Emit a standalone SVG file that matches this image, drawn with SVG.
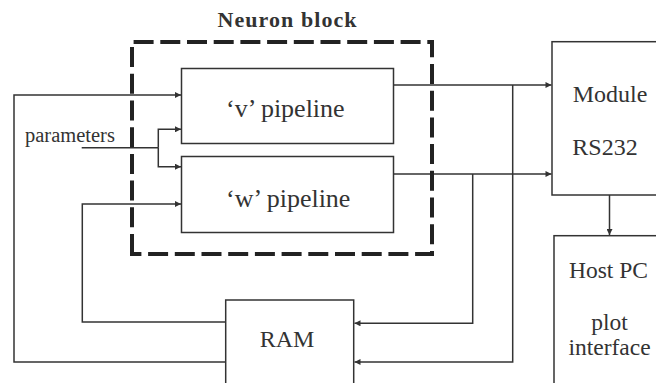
<svg xmlns="http://www.w3.org/2000/svg" width="656" height="383" viewBox="0 0 656 383">
<style>
.box{fill:none;stroke:#333;stroke-width:1.5}
.ln{fill:none;stroke:#333;stroke-width:1.5}
.arr{marker-end:url(#ah)}
.t{font-family:"Liberation Serif","Times New Roman",serif;fill:#333}
.dash{fill:none;stroke:#222;stroke-width:4;stroke-dasharray:20 6.7}
</style>
<defs>
<marker id="ah" viewBox="0 0 10 10" refX="10" refY="5" markerWidth="8" markerHeight="6" markerUnits="userSpaceOnUse" orient="auto">
<path d="M0,0 L10,5 L0,10 z" fill="#333"/>
</marker>
</defs>
<rect width="656" height="383" fill="#fff"/>
<g id="connectors">
<path class="ln arr" d="M225.7,362 H14 V95 H181"/>
<path class="ln arr" d="M225.7,322 H82.3 V204 H181"/>
<path class="ln" d="M81.7,147.7 H158.3"/>
<path class="ln arr" d="M158.3,147.7 V129.3 H181"/>
<path class="ln arr" d="M158.3,147.7 V166.7 H181"/>
<path class="ln arr" d="M393.5,85 H551.5"/>
<path class="ln arr" d="M512.7,85 V362 H354.5"/>
<path class="ln arr" d="M393.5,174 H551.5"/>
<path class="ln arr" d="M472.7,174 V323.3 H354.5"/>
<path class="ln arr" d="M609.5,195 V235"/>
</g>
<g id="neuron-block">
<path class="dash" d="M132,254 V42 H432 V254 Z"/>
<text class="t" x="287" y="27" font-size="22" font-weight="bold" text-anchor="middle" textLength="139" lengthAdjust="spacing">Neuron block</text>
</g>
<g id="v-pipeline">
<rect class="box" x="181.5" y="68.5" width="212" height="75"/>
<text class="t" x="226" y="116.7" font-size="26">‘v’ pipeline</text>
</g>
<g id="w-pipeline">
<rect class="box" x="181.5" y="156.5" width="212" height="76"/>
<text class="t" x="226" y="206.7" font-size="26">‘w’ pipeline</text>
</g>
<g id="parameters">
<text class="t" x="25" y="141.5" font-size="20.5">parameters</text>
</g>
<g id="ram">
<rect class="box" x="225.7" y="300" width="128" height="100"/>
<text class="t" x="287" y="346.7" font-size="24" text-anchor="middle">RAM</text>
</g>
<g id="module-rs232">
<rect class="box" x="552" y="41.7" width="120" height="153.3"/>
<text class="t" x="610" y="101.7" font-size="24" text-anchor="middle">Module</text>
<text class="t" x="605" y="155" font-size="24" text-anchor="middle">RS232</text>
</g>
<g id="host-pc">
<rect class="box" x="554" y="235.7" width="120" height="170"/>
<text class="t" x="608.5" y="278.3" font-size="23.5" text-anchor="middle">Host PC</text>
<text class="t" x="609.5" y="330" font-size="23.5" text-anchor="middle">plot</text>
<text class="t" x="609.5" y="355" font-size="23.5" text-anchor="middle">interface</text>
</g>
</svg>
